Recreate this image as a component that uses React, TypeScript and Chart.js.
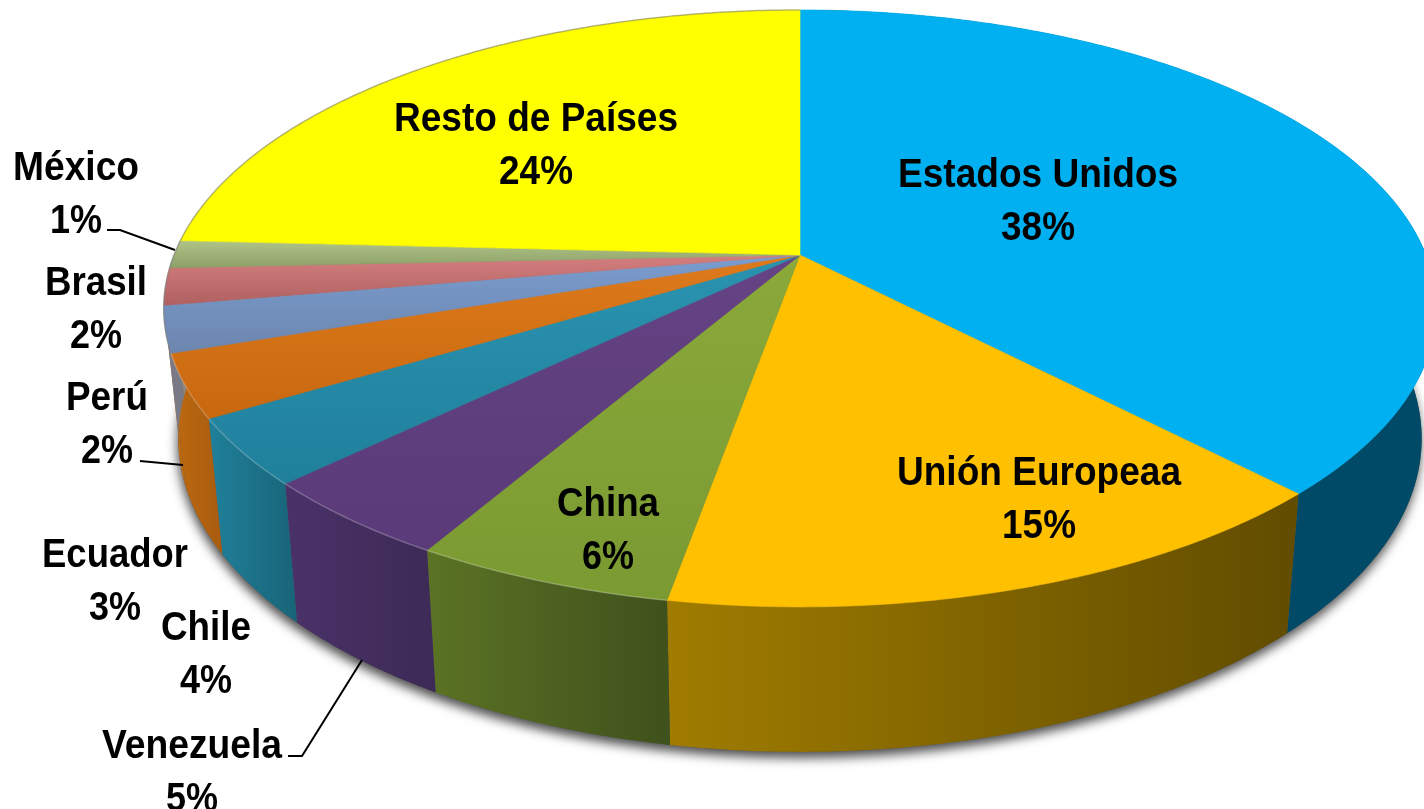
import React, { useEffect, useRef } from "react";
import { Chart, registerables } from "chart.js";

Chart.register(...registerables);

const categories = ["Estados Unidos", "Unión Europeaa", "China", "Venezuela", "Chile", "Ecuador", "Perú", "Brasil", "México", "Resto de Países"];
const sliceValues = [37.8, 15, 5.6, 4.4, 3.6, 3.4, 2.5, 2, 1.5, 24.2];
const percentLabels = ["38%", "15%", "6%", "5%", "4%", "3%", "2%", "2%", "1%", "24%"];

const topColors: [string, string][] = [
  ["#00B0F0", "#00B0F0"], ["#FFC000", "#FFC000"], ["#8BA93A", "#7A9A32"], ["#654384", "#5A3A78"],
  ["#2A93B0", "#20809C"], ["#DE7A1C", "#C8680F"], ["#7A9CCF", "#6C86AE"], ["#D47F7F", "#B06060"],
  ["#B0C488", "#8CA068"], ["#FFFF00", "#FFFF00"],
];
const wallColors: [string, string][] = [
  ["#004A68", "#004A68"], ["#A07C00", "#614C00"], ["#5B7324", "#3F511C"], ["#4A3268", "#3D2A56"],
  ["#20809A", "#186478"], ["#BE6A10", "#A85C10"], ["#B8680F", "#BE6A10"], ["#7A7A86", "#7A7A86"],
  ["#888888", "#888888"], ["#888888", "#888888"],
];

const labelLayout = [
  { x: 1038, y: 187, w: 280, pw: 74 }, { x: 1039, y: 485, w: 284, pw: 74 }, { x: 608, y: 516, w: 102, pw: 52 },
  { x: 192, y: 758, w: 180, pw: 52 }, { x: 206, y: 640, w: 90, pw: 52 }, { x: 115, y: 567, w: 146, pw: 52 },
  { x: 107, y: 410, w: 82, pw: 52 }, { x: 96, y: 295, w: 102, pw: 52 }, { x: 76, y: 180, w: 126, pw: 52 },
  { x: 536, y: 131, w: 284, pw: 74 },
];
const leaders = [
  [[107, 230], [120, 230], [175, 250]],
  [[140, 461], [183, 465]],
  [[288, 756], [302, 756], [362, 660]],
];

const CX = 800, CY = 255, A = 288.9, B = 626, K = 0.179;
const project = (t: number) => {
  const u = Math.sin(t), v = Math.cos(t), d = 1 + K * v;
  return [CX + (B * u) / d, CY - (A * v) / d];
};
const lower = ([x, y]: number[]) => [CX + 0.977 * (x - CX), 752 + 1.05 * (y - 607)];
const rim = (a: number, b: number) => {
  const n = Math.max(2, Math.ceil((b - a) / 0.01));
  const pts: number[][] = [];
  for (let i = 0; i <= n; i++) pts.push(project(a + ((b - a) * i) / n));
  return pts;
};
const trace = (ctx: CanvasRenderingContext2D, pts: number[][]) => {
  pts.forEach(([x, y], i) => (i ? ctx.lineTo(x, y) : ctx.moveTo(x, y)));
};
const gradient = (ctx: CanvasRenderingContext2D, pts: number[][], axis: number, c: [string, string]) => {
  const vals = pts.map((p) => p[axis]);
  const lo = Math.min(...vals), hi = Math.max(...vals);
  const g = axis === 0 ? ctx.createLinearGradient(lo, 0, hi, 0) : ctx.createLinearGradient(0, lo, 0, hi);
  g.addColorStop(0, c[0]);
  g.addColorStop(1, c[1]);
  return g;
};

const piePlugin = {
  id: "perspectivePie",
  beforeDatasetsDraw(chart: any) {
    const ctx: CanvasRenderingContext2D = chart.ctx;
    const arcs = chart.getDatasetMeta(0).data.map((el: any) => {
      const { startAngle, endAngle } = el.getProps(["startAngle", "endAngle"], true);
      return [startAngle + Math.PI / 2, endAngle + Math.PI / 2];
    });
    ctx.save();
    // soft shadow under the base
    ctx.save();
    ctx.shadowColor = "rgba(0,0,0,0.7)";
    ctx.shadowBlur = 11;
    ctx.shadowOffsetY = 6;
    ctx.shadowOffsetX = -1;
    ctx.fillStyle = "#555";
    ctx.beginPath();
    trace(ctx, rim(0, Math.PI * 2).map(lower));
    ctx.closePath();
    ctx.fill();
    ctx.restore();
    // side walls
    arcs.forEach(([a, b]: number[], i: number) => {
      const top = rim(a, b);
      const bottom = top.map(lower).reverse();
      const poly = [...top, ...bottom];
      ctx.beginPath();
      trace(ctx, poly);
      ctx.closePath();
      ctx.fillStyle = gradient(ctx, poly, 0, wallColors[i]);
      ctx.fill();
    });
    // top faces
    arcs.forEach(([a, b]: number[], i: number) => {
      const poly = [[CX, CY], ...rim(a, b)];
      ctx.beginPath();
      trace(ctx, poly);
      ctx.closePath();
      ctx.fillStyle = gradient(ctx, poly, 1, topColors[i]);
      ctx.fill();
      ctx.strokeStyle = ctx.fillStyle;
      ctx.lineWidth = 0.6;
      ctx.stroke();
    });
    // rim highlight on the front and a faint grey edge at the back
    arcs.forEach(([a, b]: number[], i: number) => {
      if (i === 0 || i === 1) return;
      ctx.beginPath();
      trace(ctx, rim(a, b));
      ctx.strokeStyle = i >= 6 ? "rgba(130,130,130,0.55)" : "rgba(255,255,255,0.22)";
      ctx.lineWidth = 1.5;
      ctx.stroke();
    });
    ctx.restore();
    return false;
  },
  afterDraw(chart: any) {
    const ctx: CanvasRenderingContext2D = chart.ctx;
    ctx.save();
    ctx.strokeStyle = "#000";
    ctx.lineWidth = 2;
    leaders.forEach((l) => {
      ctx.beginPath();
      trace(ctx, l);
      ctx.stroke();
    });
    ctx.fillStyle = "#000";
    ctx.textAlign = "center";
    ctx.textBaseline = "alphabetic";
    ctx.font = 'bold 41px "Liberation Sans"';
    categories.forEach((name, i) => {
      const p = labelLayout[i];
      ctx.fillText(name, p.x, p.y, p.w);
      ctx.fillText(percentLabels[i], p.x, p.y + 53, p.pw);
    });
    ctx.restore();
  },
};

export default function App() {
  const ref = useRef<HTMLCanvasElement>(null);
  useEffect(() => {
    const chart = new Chart(ref.current!, {
      type: "pie",
      data: { labels: categories, datasets: [{ data: sliceValues, backgroundColor: topColors.map((c) => c[0]), borderWidth: 0 }] },
      options: {
        responsive: false,
        animation: false,
        layout: { padding: 0 },
        plugins: { legend: { display: false }, tooltip: { enabled: false } },
      },
      plugins: [piePlugin],
    } as any);
    return () => chart.destroy();
  }, []);
  return (
    <canvas
      ref={ref}
      width={1424}
      height={809}
      style={{ position: "fixed", left: 0, top: 0, width: 1424, height: 809, background: "#fff" }}
    />
  );
}
